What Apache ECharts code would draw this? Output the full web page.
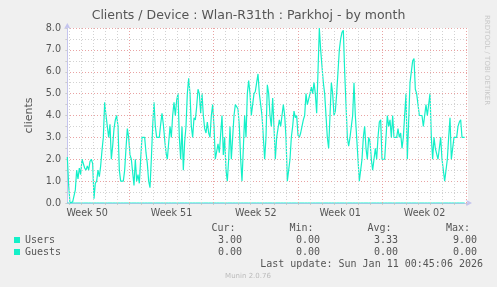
<!DOCTYPE html>
<html><head><meta charset="utf-8">
<script src="https://cdn.jsdelivr.net/npm/echarts@6/dist/echarts.min.js"></script>
<style>html,body{margin:0;padding:0;background:#f0f0f0}#c{width:497px;height:287px}</style>
</head><body><div id="c"></div>
<script>
const chartTitle = 'Clients / Device : Wlan-R31th : Parkhoj - by month';
const yAxisName = 'clients';
const weekLabels = ['Week 50', 'Week 51', 'Week 52', 'Week 01', 'Week 02'];
const yMin = 0, yMax = 8, yStep = 1;
const seriesNames = ['Users', 'Guests'];
const users = [
2.1,0.8,0,0,0.05,0.05,0.6,1.5,1.1,1.6,
1.3,2.0,2.0,1.6,1.5,1.7,1.5,1.9,2.0,1.8,
0.2,0.9,1.0,1.5,1.2,1.7,2.4,3.0,4.6,4.0,
4.0,3.0,3.6,2.0,2.6,3.4,3.8,4.0,3.5,1.5,
1.0,1.0,1.0,1.5,2.5,3.4,3.0,2.2,2.0,2.0,
0.8,2.0,1.0,1.3,0.9,2.0,3.0,3.0,3.0,2.3,
1.8,1.0,0.7,2.0,3.5,4.6,3.5,3.0,3.0,3.0,
3.6,4.1,3.6,2.9,2.3,2.0,2.0,3.5,3.0,4.0,
4.6,4.0,4.7,5.0,3.0,2.0,3.5,1.5,2.8,3.5,
5.0,5.7,5.0,3.5,3.0,3.9,3.8,4.4,5.2,5.0,
4.1,5.0,4.0,3.4,3.2,3.7,3.2,3.0,4.0,4.5,
3.5,2.0,2.0,2.7,2.3,2.3,4.0,2.2,3.0,1.5,
1.0,2.0,3.5,2.0,3.0,4.0,4.5,4.4,4.3,3.5,
2.0,1.0,2.5,4.0,3.0,5.0,5.6,5.0,4.0,4.0,
5.0,5.1,5.5,5.9,5.0,5.0,4.0,4.0,2.0,3.0,
5.4,
5.0,4.0,3.5,4.8,3.5,2.0,3.0,3.0,3.8,3.5,
4.0,4.5,4.0,3.0,1.0,1.0,2.0,3.0,3.5,4.2,
3.9,4.0,3.1,3.0,3.2,3.5,3.8,4.0,5.0,4.5,
4.5,5.0,5.3,5.0,5.5,5.0,4.1,6.0,8.0,7.0,
7.0,5.5,5.0,5.0,3.0,2.5,4.0,5.5,5.0,4.0,
4.2,5.0,6.0,7.0,7.5,7.8,7.9,6.0,4.5,3.0,
2.6,3.0,3.5,4.0,5.5,4.0,3.0,2.0,1.0,1.0,
2.0,3.0,3.5,2.5,2.0,3.0,2.8,2.0,1.5,2.0,
2.5,2.0,3.0,3.7,3.8,2.0,2.0,2.0,3.0,4.0,
3.5,3.8,3.0,4.0,3.0,3.0,3.0,3.4,3.0,3.2,
2.5,3.0,4.0,5.0,2.0,2.0,5.5,5.5,6.5,6.6,
5.2,5.0,5.0,4.0,4.0,4.0,3.5,4.0,4.5,4.0,
4.5,5.0,3.0,2.0,3.0,2.5,2.5,2.0,2.0,3.0,
2.0,1.5,1.0,1.0,2.0,3.0,3.9,2.0,2.0,3.0,
3.0,3.0,3.5,3.7,3.8,3.0,3.0,3.0
];
const guests = [
0,0,0,0,0,0,0,0,0,0,0,0,0,0,0,0,0,0,0,0,
0,0,0,0,0,0,0,0,0,0,0,0,0,0,0,0,0,0,0,0,
0,0,0,0,0,0,0,0,0,0,0,0,0,0,0,0,0,0,0,0,
0,0,0,0,0,0,0,0,0,0,0,0,0,0,0,0,0,0,0,0,
0,0,0,0,0,0,0,0,0,0,0,0,0,0,0,0,0,0,0,0,
0,0,0,0,0,0,0,0,0,0,0,0,0,0,0,0,0,0,0,0,
0,0,0,0,0,0,0,0,0,0,0,0,0,0,0,0,0,0,0,0,
0,0,0,0,0,0,0,0,0,0,0,0,0,0,0,0,0,0,0,0,
0,0,0,0,0,0,0,0,0,0,0,0,0,0,0,0,0,0,0,0,
0,0,0,0,0,0,0,0,0,0,0,0,0,0,0,0,0,0,0,0,
0,0,0,0,0,0,0,0,0,0,0,0,0,0,0,0,0,0,0,0,
0,0,0,0,0,0,0,0,0,0,0,0,0,0,0,0,0,0,0,0,
0,0,0,0,0,0,0,0,0,0,0,0,0,0,0,0,0,0,0,0,
0,0,0,0,0,0,0,0,0,0,0,0,0,0,0,0,0,0,0,0,
0,0,0,0,0,0,0,0,0,0,0,0,0,0,0,0,0,0,0
];
const statHeaders = ['Cur:', 'Min:', 'Avg:', 'Max:'];
const statCur = [3.00, 0.00];
const statMin = [0.00, 0.00];
const statAvg = [3.33, 0.00];
const statMax = [9.00, 0.00];
const lastUpdate = 'Last update: Sun Jan 11 00:45:06 2026';
const footerText = 'Munin 2.0.76';
const sideText = 'RRDTOOL / TOBI OETIKER';

// time scale in sample units (one sample per data point)
const firstWeekLine = 46.5;
const samplesPerDay = 9.036;
const samplesPerWeek = samplesPerDay * 7;
const xMin = -0.25, xMax = 300.5;

const dayLines = [];
for (let k = -6; k < 40; k++) {
  const v = firstWeekLine + k * samplesPerDay;
  if (v > xMin && v < xMax) dayLines.push({ v, week: ((k % 7) + 7) % 7 === 0 });
}
const weekCenters = weekLabels.map((_, j) => firstWeekLine - samplesPerWeek / 2 + j * samplesPerWeek);

const lineColor = '#14f0c8';
const textColor = '#555';
const mono = '"DejaVu Sans Mono", monospace';

const gridMarks = dayLines.map(d => ({
  xAxis: d.v,
  lineStyle: { color: d.week ? '#e9a3a3' : '#d2d2d2', type: [1, 2], width: 1 }
}));

const statCols = [statCur, statMin, statAvg, statMax];
const headerRight = [235.5, 313.5, 391.5, 470];
const valueRight = [242, 320, 398, 477];
const graphics = [];
statHeaders.forEach((h, c) => {
  graphics.push({ type: 'text', x: headerRight[c], y: 228, style: { text: h, fill: textColor, font: '10px ' + mono, align: 'right', verticalAlign: 'middle' } });
});
seriesNames.forEach((s, r) => {
  statCols.forEach((col, c) => {
    graphics.push({ type: 'text', x: valueRight[c], y: 240 + r * 12, style: { text: col[r].toFixed(2), fill: textColor, font: '10px ' + mono, align: 'right', verticalAlign: 'middle' } });
  });
});
graphics.push({ type: 'text', x: 483, y: 264, style: { text: lastUpdate, fill: textColor, font: '10px ' + mono, align: 'right', verticalAlign: 'middle' } });
graphics.push({ type: 'text', x: 248, y: 276.5, style: { text: footerText, fill: '#bbbbbb', font: '7px "DejaVu Sans"', align: 'center', verticalAlign: 'middle' } });
graphics.push({ type: 'text', x: 487, y: 15, rotation: -Math.PI / 2, style: { text: sideText, fill: '#c8c8c8', font: '7px "DejaVu Sans"', align: 'left', verticalAlign: 'middle' } });

const chart = echarts.init(document.getElementById('c'), null, { renderer: 'canvas' });
chart.setOption({
  animation: false,
  backgroundColor: '#f0f0f0',
  title: {
    text: chartTitle, left: 'center', top: 9, padding: 0,
    textStyle: { fontFamily: 'DejaVu Sans', fontSize: 12.5, fontWeight: 'normal', color: textColor }
  },
  grid: { left: 67, top: 28, width: 401, height: 175, show: true, backgroundColor: '#ffffff', borderWidth: 0 },
  legend: {
    orient: 'vertical', left: 14, top: 234, itemWidth: 6, itemHeight: 6, itemGap: 0, padding: 0,
    icon: 'rect', selectedMode: false,
    textStyle: { fontFamily: mono, fontSize: 10, color: textColor, lineHeight: 12, padding: [0, 0, 0, 0] },
    data: seriesNames
  },
  xAxis: {
    type: 'value', min: xMin, max: xMax,
    axisLine: { show: true, lineStyle: { color: '#c4c4ee', width: 1 }, symbol: ['none', 'arrow'], symbolSize: [5, 6], symbolOffset: [0, 4] },
    axisTick: { show: true, customValues: dayLines.map(d => d.v), length: 2, inside: false, lineStyle: { color: '#cccccc' } },
    axisLabel: {
      show: true, customValues: weekCenters, margin: 5,
      fontFamily: 'DejaVu Sans', fontSize: 9.6, color: textColor,
      formatter: v => {
        let best = 0, bd = Infinity;
        weekCenters.forEach((c, i) => { const d = Math.abs(c - v); if (d < bd) { bd = d; best = i; } });
        return weekLabels[best];
      }
    },
    splitLine: { show: false }
  },
  yAxis: {
    type: 'value', min: yMin, max: yMax, interval: yStep,
    name: yAxisName, nameLocation: 'middle', nameGap: 27, nameRotate: 90,
    nameTextStyle: { fontFamily: 'DejaVu Sans', fontSize: 11, color: textColor },
    axisLine: { show: true, lineStyle: { color: '#c4c4ee', width: 1 }, symbol: ['none', 'arrow'], symbolSize: [5, 6], symbolOffset: [0, 5] },
    axisTick: { show: true, length: 2, lineStyle: { color: '#cccccc' } },
    minorTick: { show: true, splitNumber: 2, length: 2, lineStyle: { color: '#cccccc' } },
    axisLabel: { margin: 6, fontFamily: 'DejaVu Sans', fontSize: 9.6, color: textColor, formatter: v => v.toFixed(1) },
    splitLine: { show: true, lineStyle: { color: '#e9a3a3', type: [1, 2], width: 1 } },
    minorSplitLine: { show: true, lineStyle: { color: '#d2d2d2', type: [1, 2], width: 1 } }
  },
  series: [
    {
      name: seriesNames[1], type: 'line', z: 2, symbol: 'none',
      data: guests.map((v, i) => [i, v]),
      lineStyle: { color: lineColor, width: 1 }, itemStyle: { color: lineColor },
      markLine: { silent: true, symbol: ['none', 'none'], label: { show: false }, animation: false, data: gridMarks }
    },
    {
      name: seriesNames[0], type: 'line', z: 3, symbol: 'none',
      data: users.map((v, i) => [i, v]),
      lineStyle: { color: lineColor, width: 1.2 }, itemStyle: { color: lineColor }
    }
  ],
  graphic: graphics
});
</script>
</body></html>
